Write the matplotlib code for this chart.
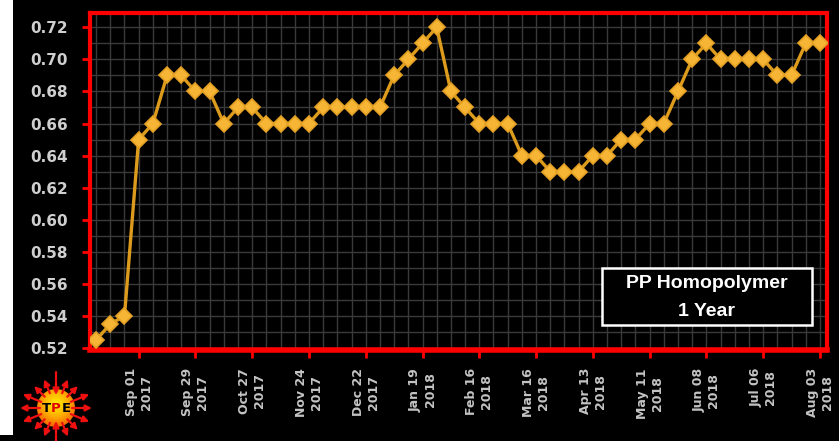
import numpy as np
import pandas as pd
import matplotlib
matplotlib.use('Agg')
from matplotlib import pyplot as plt
from matplotlib.patches import Rectangle, Circle
from matplotlib.ticker import MultipleLocator, FixedLocator
import matplotlib.dates as mdates

# weekly PP homopolymer price, one point per friday
dates = pd.date_range('2017-08-11', '2018-08-03', freq='7D')
prices = [0.525, 0.535, 0.54, 0.65, 0.66, 0.69, 0.69, 0.68, 0.68, 0.66,
          0.67, 0.67, 0.66, 0.66, 0.66, 0.66, 0.67, 0.67, 0.67, 0.67,
          0.67, 0.69, 0.70, 0.71, 0.72, 0.68, 0.67, 0.66, 0.66, 0.66,
          0.64, 0.64, 0.63, 0.63, 0.63, 0.64, 0.64, 0.65, 0.65, 0.66,
          0.66, 0.68, 0.70, 0.71, 0.70, 0.70, 0.70, 0.70, 0.69, 0.69,
          0.71, 0.71]
tick_dates = dates[3::4]
tick_labels = ['Sep 01\n2017', 'Sep 29\n2017', 'Oct 27\n2017', 'Nov 24\n2017',
               'Dec 22\n2017', 'Jan 19\n2018', 'Feb 16\n2018', 'Mar 16\n2018',
               'Apr 13\n2018', 'May 11\n2018', 'Jun 08\n2018', 'Jul 06\n2018',
               'Aug 03\n2018']
y_ticks = [0.52, 0.54, 0.56, 0.58, 0.60, 0.62, 0.64, 0.66, 0.68, 0.70, 0.72]

W, H = 839, 441
fig = plt.figure(figsize=(W / 100, H / 100), dpi=100, facecolor='black')

# white strip on the left edge
fig.patches.append(Rectangle((0, 6 / H), 13 / W, 1, transform=fig.transFigure,
                             facecolor='white', edgecolor='none', zorder=0))

ax = fig.add_axes([90 / W, 1 - 350 / H, 737 / W, 337 / H])
ax.set_facecolor('black')

ax.plot(dates, prices, color='#dc9b1c', lw=2.4, marker='D', markersize=8,
        markerfacecolor='#f6b535', markeredgecolor='#e3a024', markeredgewidth=1.2,
        zorder=3)

ax.set_xlim(dates[0] - pd.Timedelta(days=3), dates[-1] + pd.Timedelta(days=3.5))
ax.set_ylim(0.5188, 0.7289)

ax.set_xticks(tick_dates)
ax.set_xticklabels(tick_labels, rotation=90, ha='center', va='top',
                   multialignment='center', fontsize=9, fontweight='bold',
                   color='#c4c4c4')
ax.xaxis.set_minor_locator(FixedLocator(mdates.date2num(dates)))
ax.set_yticks(y_ticks)
ax.set_yticklabels(['%.2f' % v for v in y_ticks], fontsize=11, fontweight='bold',
                   color='#cfcfcf')
ax.yaxis.set_minor_locator(MultipleLocator(0.01))

ax.tick_params(which='major', color='red', width=2, length=6)
ax.tick_params(axis='x', which='major', pad=7)
ax.tick_params(axis='y', which='major', pad=10)
ax.tick_params(which='minor', length=0)

ax.grid(which='both', color='#3a3a3a', lw=1)
ax.set_axisbelow(True)

for side in ['left', 'right', 'top']:
    ax.spines[side].set_color('red')
    ax.spines[side].set_linewidth(3)
ax.spines['bottom'].set_color('red')
ax.spines['bottom'].set_linewidth(4)

# title box
fig.patches.append(Rectangle((602 / W, 1 - 325 / H), 210 / W, 57 / H,
                             transform=fig.transFigure, facecolor='black',
                             edgecolor='white', lw=1.8, zorder=5))
fig.text(707 / W, 1 - 284 / H, 'PP Homopolymer', ha='center', va='center',
         color='white', fontsize=14, fontweight='bold', family='Liberation Sans',
         zorder=6)
fig.text(707 / W, 1 - 311 / H, '1 Year', ha='center', va='center',
         color='white', fontsize=14, fontweight='bold', family='Liberation Sans',
         zorder=6)

# TPE logo
lg = fig.add_axes([(56 - 38) / W, 1 - (408 + 38) / H, 76 / W, 76 / H])
lg.set_xlim(-38, 38)
lg.set_ylim(-38, 38)
lg.axis('off')
gx, gy = np.meshgrid(np.linspace(-20, 20, 200), np.linspace(-20, 20, 200))
rr = np.sqrt(gx ** 2 + (gy - 4) ** 2) / 24
cmap = matplotlib.colors.LinearSegmentedColormap.from_list(
    'sun', ['#fff200', '#ffb000', '#f06000'])
im = lg.imshow(rr, extent=(-20, 20, -20, 20), cmap=cmap, origin='lower',
               vmin=0, vmax=1, zorder=2)
circ = Circle((0, 0), 19, transform=lg.transData)
im.set_clip_path(circ)
for ang in np.arange(0, 360, 22.5):
    a = np.deg2rad(ang)
    rx = 36 if abs(np.cos(a)) > 0.9 else 31
    if ang in (90.0, 270.0):
        start, end = 36, 13
    else:
        start, end = 16, rx
    lg.annotate('', xy=(end * np.cos(a), end * np.sin(a)),
                xytext=(start * np.cos(a), start * np.sin(a)),
                arrowprops=dict(arrowstyle='-|>', color='#ee1010', lw=1.6,
                                mutation_scale=9, shrinkA=0, shrinkB=0), zorder=3)
for dx, letter, col in [(-10, 'T', 'black'), (0, 'P', '#e00000'), (10, 'E', 'black')]:
    lg.text(dx, 0, letter, ha='center', va='center', fontsize=9.5,
            fontweight='bold', color=col, zorder=4)

fig.savefig('out.png', dpi=100, facecolor='black')
